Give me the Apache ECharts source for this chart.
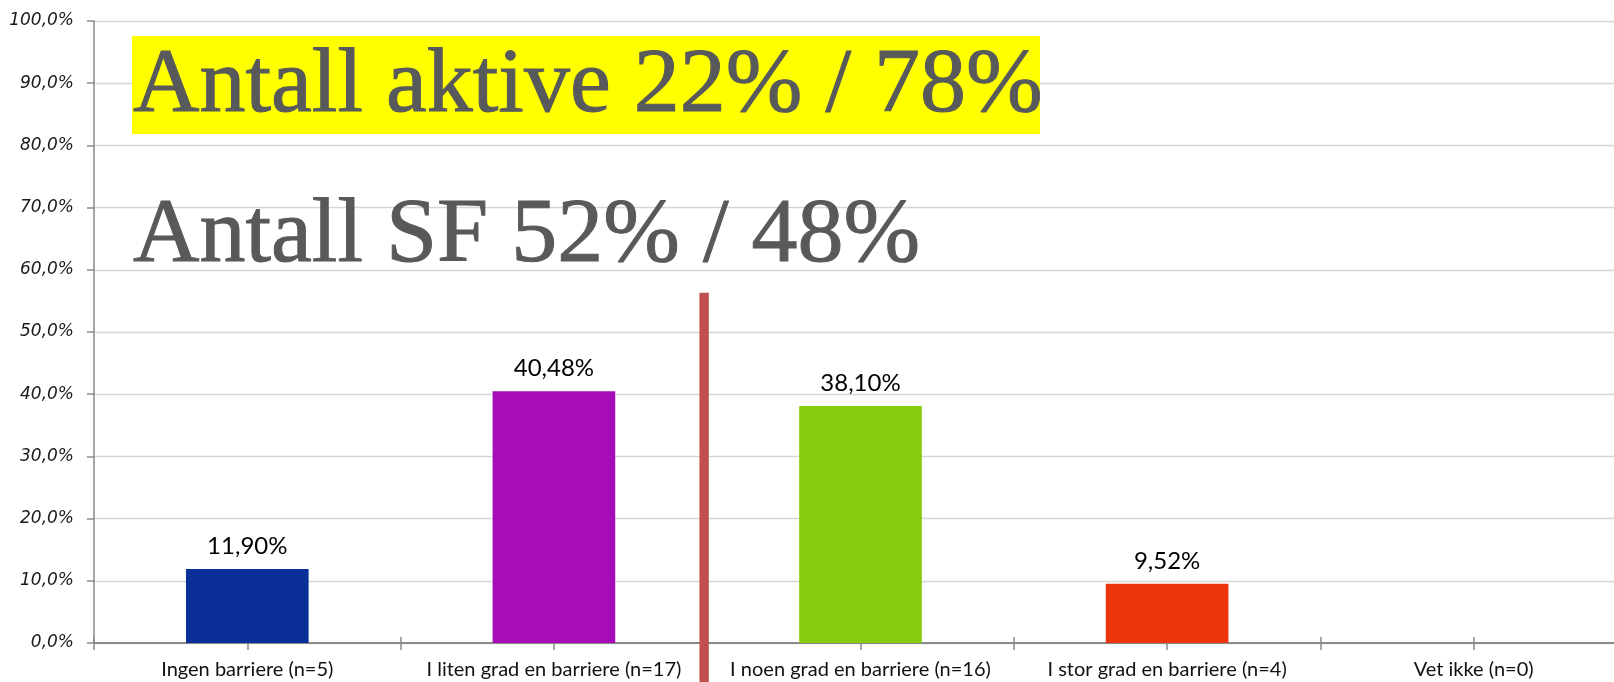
<!DOCTYPE html>
<html>
<head>
<meta charset="utf-8">
<script src="https://cdn.jsdelivr.net/npm/echarts@6/dist/echarts.min.js"></script>
<style>
html,body{margin:0;padding:0;background:#fff;}
#chart{width:1614px;height:682px;}
</style>
</head>
<body>
<div id="chart"></div>
<script>
// ---- data ----
const categories = ['Ingen barriere (n=5)', 'I liten grad en barriere (n=17)', 'I noen grad en barriere (n=16)', 'I stor grad en barriere (n=4)', 'Vet ikke (n=0)'];
const values = [11.90, 40.48, 38.10, 9.52, 0];
const barColors = ['#0b2f98', '#a60db9', '#85cc0e', '#ee360e'];
const yTicks = [0, 10, 20, 30, 40, 50, 60, 70, 80, 90, 100];
const annotation1 = 'Antall aktive 22% / 78%';
const annotation2 = 'Antall SF 52% / 48%';
const dividerAt = 1.99;      // boundary between 2nd and 3rd category (axis units)
const dividerTop = 56.3;     // percent

const fmtPct = (v, d) => v.toFixed(d).replace('.', ',') + '%';

const chart = echarts.init(document.getElementById('chart'), null, {renderer: 'canvas'});
const grid = {left: 94, width: 1533, top: 21, height: 622, containLabel: false, outerBoundsMode: 'none'};

const tickAxis = (inside, len) => ({
  type: 'value', min: 0, max: categories.length, interval: 0.5, position: 'bottom',
  axisLine: {show: false}, axisLabel: {show: false}, splitLine: {show: false},
  axisTick: {show: true, inside: inside, length: len, lineStyle: {color: '#8a8a8a', width: 1.5}}
});

chart.setOption({
  animation: false,
  grid: grid,
  xAxis: [
    {
      type: 'category', data: categories, position: 'bottom',
      axisLine: {lineStyle: {color: '#8a8a8a', width: 2}},
      axisTick: {show: false},
      axisLabel: {interval: 0, margin: 17, color: '#111', fontFamily: 'Lato', fontSize: 20}
    },
    tickAxis(false, 7),
    tickAxis(true, 6)
  ],
  yAxis: {
    type: 'value', min: yTicks[0], max: yTicks[yTicks.length - 1], interval: yTicks[1] - yTicks[0],
    axisLine: {show: true, lineStyle: {color: '#8a8a8a', width: 1.5}},
    axisTick: {show: true, length: 7, lineStyle: {color: '#8a8a8a', width: 1.5}},
    splitLine: {lineStyle: {color: '#d6d6d6', width: 1.3}},
    axisLabel: {margin: 20, color: '#1a1a1a', fontFamily: 'DejaVu Sans', fontStyle: 'italic', fontSize: 17,
      formatter: v => fmtPct(v, 1)}
  },
  series: [{
    type: 'bar', xAxisIndex: 0, barWidth: '40%',
    data: values.map((v, i) => ({value: v, itemStyle: {color: barColors[i % barColors.length]}})),
    label: {show: true, position: 'top', distance: 11, color: '#000', fontFamily: 'Lato', fontSize: 24,
      formatter: p => p.value > 0 ? fmtPct(p.value, 2) : ''}
  }]
});

// annotations anchored to axes
const px = chart.convertToPixel({xAxisIndex: 1}, dividerAt);
const pyTop = chart.convertToPixel({yAxisIndex: 0}, dividerTop);
const titleStyle = {font: '92px "Liberation Serif"', fill: '#58595b', stroke: '#58595b', lineWidth: 1, verticalAlign: 'middle'};
chart.setOption({
  graphic: [
    {type: 'rect', shape: {x: 132, y: 36, width: 908, height: 98}, style: {fill: '#ffff00'}, z: 10},
    {type: 'text', x: 133, y: 87, z: 11, style: Object.assign({text: annotation1}, titleStyle)},
    {type: 'text', x: 133, y: 237, z: 11, style: Object.assign({text: annotation2}, titleStyle)},
    {type: 'rect', shape: {x: px - 4.7, y: pyTop, width: 9.4, height: 682 - pyTop}, style: {fill: '#c0504d'}, z: 12}
  ]
});
</script>
</body>
</html>
